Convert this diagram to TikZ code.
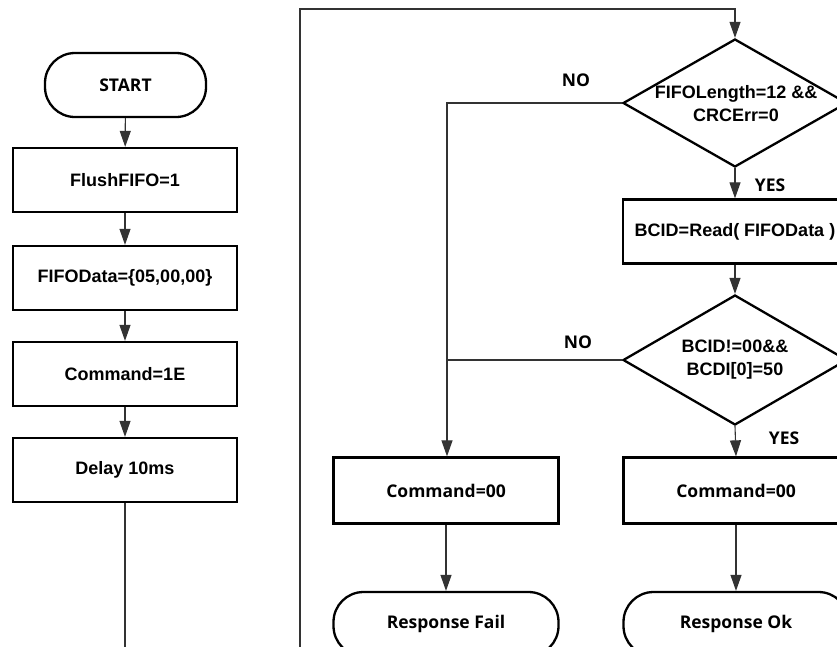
\documentclass[tikz,border=0pt]{standalone}
\usepackage{fontspec}
\usetikzlibrary{shapes.geometric,arrows.meta}
\newfontfamily\arialfam{Liberation Sans}
\newfontfamily\gothfam{Open Sans}

\tikzset{
  x=1pt, y=-1pt,
  base/.style={draw=black, line width=2.3pt, inner sep=0pt, align=center},
  procbox/.style={base, rectangle, minimum width=224pt, minimum height=64pt,
    font=\arialfam\bfseries\fontsize{18}{23}\selectfont},
  procboxk/.style={procbox, font=\gothfam\bfseries\fontsize{17.5}{21}\selectfont},
  termbox/.style={base, rectangle, rounded corners=30pt, minimum height=64pt,
    font=\gothfam\bfseries\fontsize{17.5}{21}\selectfont},
  decbox/.style={base, diamond, minimum width=224pt, minimum height=128pt},
  dectext/.style={font=\arialfam\bfseries\fontsize{18}{23}\selectfont, align=center, inner sep=0pt},
  conn/.style={draw=black!80, line width=1.1pt},
  arr/.style={conn, -{Triangle[length=16pt,width=11pt]}},
  branchlbl/.style={font=\gothfam\bfseries\fontsize{17.5}{21}\selectfont, inner sep=0pt}
}

\begin{document}
\begin{tikzpicture}
\clip (0,0) rectangle (837,646);
\fill[white] (0,0) rectangle (837,646);

% left column: initialisation sequence
\node[termbox, minimum width=161pt] (start) at (125.5,85) {START};
\node[procbox] (flush) at (125,180) {FlushFIFO=1};
\node[procbox] (fdata) at (125,278) {FIFOData=\{05,00,00\}};
\node[procbox] (cmd1e) at (125,374) {Command=1E};
\node[procbox] (delay) at (125,470) {Delay 10ms};

% right part: response check
\node[decbox] (chk1) at (735,103) {};
\node[dectext] (chk1t) at (736,104) {FIFOLength=12 \&\&\\CRCErr=0};
\node[procbox] (bcid) at (735,231.5) {BCID=Read( FIFOData )};
\node[decbox, minimum height=130pt] (chk2) at (735,360) {};
\node[dectext] (chk2t) at (735,360) {BCID!=00\&\&\\BCDI[0]=50};
\node[procboxk, minimum width=225pt, minimum height=66pt] (cmdfail) at (446,490.5) {Command=00};
\node[procboxk, minimum width=225pt, minimum height=66pt] (cmdok) at (736,490.5) {Command=00};
\node[termbox, minimum width=225pt] (rfail) at (446,624) {Response Fail};
\node[termbox, minimum width=225pt] (rok) at (736,624) {Response Ok};

% branch labels
\node[branchlbl] (no1) at (576,80) {NO};
\node[branchlbl] (no2) at (578,342) {NO};
\node[branchlbl] (yes1) at (770,185) {YES};
\node[branchlbl] (yes2) at (784,438) {YES};

% helper points for the loop and the open ends
\coordinate (leftend) at (125,660);
\coordinate (loopstart) at (300,660);
\coordinate (looptop) at (300,9);
\coordinate (nojoin) at (447,360);

% connectors
\draw[arr] (start) -- (flush);
\draw[arr] (flush) -- (fdata);
\draw[arr] (fdata) -- (cmd1e);
\draw[arr] (cmd1e) -- (delay);
\draw[conn] (delay.south) -- (leftend);
\draw[arr] (loopstart) -- (looptop) -| (chk1.north);
\draw[arr] (chk1.south) -- (bcid.north);
\draw[arr] (bcid.south) -- (chk2.north);
\draw[arr] (chk2.south) -- (cmdok.north);
\draw[arr] (chk1.west) -| ([xshift=1pt]cmdfail.north);
\draw[conn] (chk2.west) -- (nojoin);
\draw[arr] (cmdfail) -- (rfail);
\draw[arr] (cmdok) -- (rok);
\end{tikzpicture}
\end{document}
